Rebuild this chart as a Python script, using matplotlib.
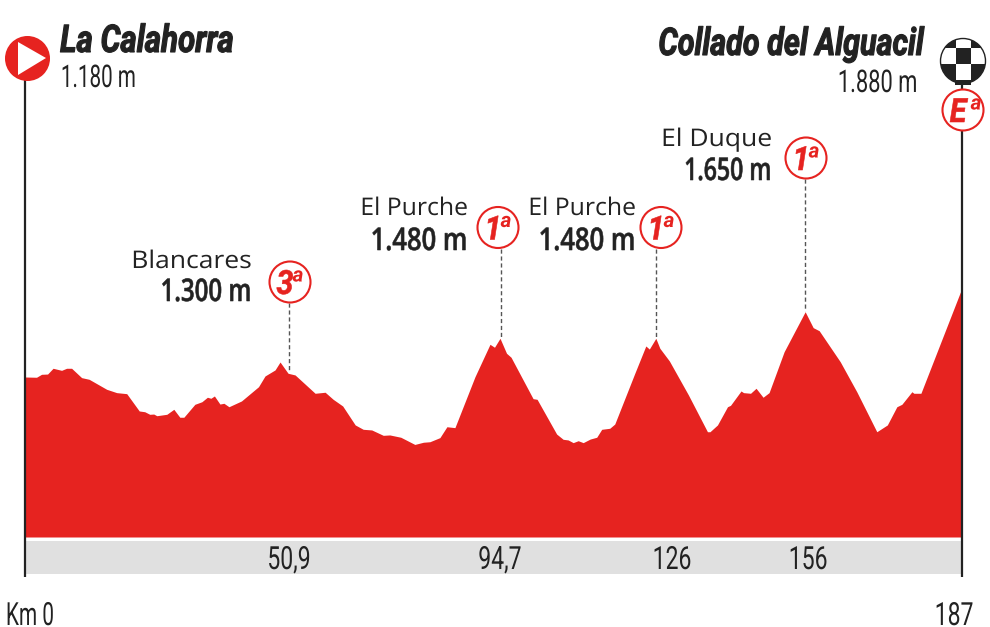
import matplotlib
matplotlib.use("Agg")
import matplotlib.pyplot as plt
from matplotlib.patches import Circle, Rectangle, Polygon
from matplotlib.patheffects import AbstractPathEffect
from matplotlib.transforms import Affine2D

km = [0, 2.3, 3.3, 4.5, 5.6, 7.3, 8.3, 9.3, 11.3, 12.8, 16.3, 18.3, 20.3, 22.8, 23.9, 24.9, 25.7, 26.3,
      28.3, 29.7, 30.9, 31.7, 33.9, 35.3, 36.4, 37.1, 37.8, 38.9, 39.7, 40.7, 43.2, 46.6, 47.9, 49.9,
      50.9, 52.5, 53.9, 57.9, 59.9, 61.5, 63.4, 65.9, 67.5, 69.2, 71.5, 72.8, 75, 77.8, 79.5, 80.8,
      82.8, 84.2, 85.8, 89.8, 92.8, 93.7, 94.8, 96.1, 97, 101.4, 102.2, 106.1, 107.4, 108.4, 109.4,
      110.4, 111.4, 112.8, 114.1, 115.1, 116.7, 117.7, 121.7, 123.9, 124.6, 125.9, 126.7, 128.6,
      132.4, 136.2, 136.7, 138.2, 140.2, 140.8, 142.9, 143.4, 144.8, 145.9, 147.3, 148.5, 151.5,
      155.7, 157.3, 158.5, 162.7, 166, 170, 172.1, 174, 175, 177, 177.4, 178.8, 187]
alt = [1180, 1178, 1201, 1203, 1248, 1232, 1248, 1248, 1175, 1162, 1084, 1058, 1050, 915, 909, 889, 891, 878,
       889, 928, 866, 866, 967, 987, 1022, 1014, 1032, 969, 975, 948, 993, 1104, 1188, 1235,
       1297, 1209, 1196, 1053, 1061, 1006, 954, 806, 772, 767, 725, 728, 710, 654, 671, 675,
       707, 792, 785, 1182, 1435, 1412, 1482, 1365, 1334, 1011, 1006, 735, 694, 689, 668,
       683, 668, 696, 710, 772, 780, 813, 1209, 1422, 1398, 1482, 1404, 1305,
       1040, 753, 753, 806, 948, 959, 1071, 1058, 1053, 1092, 1022, 1058, 1377,
       1689, 1565, 1541, 1299, 1065, 753, 806, 948, 967, 1065, 1053, 1053, 1875]

climb_names = ["Blancares", "El Purche", "El Purche", "El Duque"]
climb_alts = ["1.300 m", "1.480 m", "1.480 m", "1.650 m"]
climb_cats = ["3", "1", "1", "1"]
climb_km = ["50,9", "94,7", "126", "156"]

start_name, start_alt = "La Calahorra", "1.180 m"
end_name, end_alt = "Collado del Alguacil", "1.880 m"

RED = "#e62320"
DARK = "#222222"
OPEN = ["Open Sans", "DejaVu Sans"]
ROB = ["Roboto", "DejaVu Sans"]


# no condensed font here, so squeeze the glyphs sideways when they get drawn
class Squeeze(AbstractPathEffect):
    def __init__(self, sx, anchor, stroke=0):
        super().__init__()
        self.sx = sx
        self.anchor = anchor
        self.stroke = stroke

    def draw_path(self, renderer, gc, tpath, affine, rgbFace=None):
        ext = tpath.get_extents()
        a = {"left": ext.x0, "center": (ext.x0 + ext.x1) / 2, "right": ext.x1}[self.anchor]
        tr = Affine2D().translate(-a, 0).scale(self.sx, 1).translate(a, 0) + affine
        if self.stroke:
            gc.set_foreground(rgbFace)
            gc.set_linewidth(self.stroke)
        renderer.draw_path(gc, tpath, tr, rgbFace)


fig = plt.figure(figsize=(9.9, 6.27), dpi=100)

# profile axes, same px scale as the sheet: km 0 at x=25, km 187 at x=962
ax = fig.add_axes([0, 0, 1, 1])
ax.set_xlim(-4.99, 192.59)
ax.set_ylim(-770, 4120.6)
ax.axis("off")
ax.fill_between(km, -68, alt, color=RED, lw=0, zorder=2)

# everything else in pixels
d = fig.add_axes([0, 0, 1, 1])
d.set_xlim(0, 990)
d.set_ylim(627, 0)
d.axis("off")
d.patch.set_alpha(0)


def txt(x, y, s, size, sx=1.0, ha="left", color=DARK, family=ROB, stroke=0, **kw):
    t = d.text(x, y, s, fontsize=size, color=color, family=family, ha=ha, va="baseline", zorder=7, **kw)
    t.set_path_effects([Squeeze(sx, ha, stroke)])
    return t


d.add_patch(Rectangle((25, 541), 937, 33, color="#e0e0e0", lw=0, zorder=1))
d.plot([25, 25], [80, 577], color=DARK, lw=1.6, zorder=4, solid_capstyle="butt")
d.plot([962, 962], [82, 577], color=DARK, lw=1.6, zorder=4, solid_capstyle="butt")

# start sign
d.add_patch(Circle((27.5, 58.5), 22.5, color=RED, lw=0, zorder=5))
d.add_patch(Polygon([(18, 42), (46, 58), (18, 75)], closed=True, color="white", lw=0, zorder=6))

# finish sign
fin = Circle((963, 61), 22.5, facecolor="white", edgecolor=DARK, lw=1, zorder=5)
d.add_patch(fin)
cells = [(940, 38, 15.5, 10), (970.5, 38, 15.5, 10), (955.5, 48, 15, 15.5),
         (940, 63.5, 15.5, 21), (970.5, 63.5, 15.5, 21)]
for cx, cy, cw, ch in cells:
    r = Rectangle((cx, cy), cw, ch, color=DARK, lw=0, zorder=6)
    d.add_patch(r)
    r.set_clip_path(fin)
d.add_patch(Rectangle((955, 80), 16, 4.5, color=DARK, lw=0, zorder=5))


def badge(x, y, main, sup_dx=8):
    d.add_patch(Circle((x, y), 20.5, facecolor="white", edgecolor=RED, lw=1.5, zorder=5))
    txt(x - 5, y + 12, main, 24, 0.92, "center", RED, ROB, stroke=0.4, weight="bold", style="italic")
    txt(x + sup_dx, y - 0.5, "a", 15, 1.0, "center", RED, ROB, weight="bold", style="italic")


badge(963, 110, "E", 13)

# climbs
badge_xy = [(290, 282), (498, 227.5), (661, 227.5), (806, 158)]
line_x = [289, 501, 656, 805]
line_end = [372, 338, 338, 311]
text_right = [252, 468, 636, 772]
name_base = [268, 215, 215, 146]
alt_base = [301, 250, 250, 180]
name_sx = [1.09, 1.02, 1.02, 1.09]
alt_sx = [0.77, 0.82, 0.82, 0.74]
for i in range(4):
    d.plot([line_x[i], line_x[i]], [badge_xy[i][1] + 21, line_end[i]], color="#555555", lw=1,
           dashes=(3, 2), zorder=3)
    badge(badge_xy[i][0], badge_xy[i][1], climb_cats[i])
    txt(text_right[i], name_base[i], climb_names[i], 17.5, name_sx[i], "right", family=OPEN)
    txt(text_right[i], alt_base[i], climb_alts[i], 22.5, alt_sx[i], "right", family=OPEN, stroke=0.4,
        weight="semibold")

# km labels on the band
band_x = [289, 500, 672, 808]
for x, s in zip(band_x, climb_km):
    txt(x, 569, s, 23, 0.72, "center")
txt(5, 625, "Km 0", 23, 0.65)
txt(974, 625, "187", 23, 0.72, "right")

# start / finish names
txt(60, 52, start_name, 27.5, 0.82, stroke=0.8, weight="bold", style="italic")
txt(60, 87, start_alt, 22.5, 0.66)
txt(924, 55, end_name, 27.5, 0.8, "right", stroke=0.8, weight="bold", style="italic")
txt(918, 92, end_alt, 22.5, 0.7, "right")

fig.savefig("out.png", dpi=100)
